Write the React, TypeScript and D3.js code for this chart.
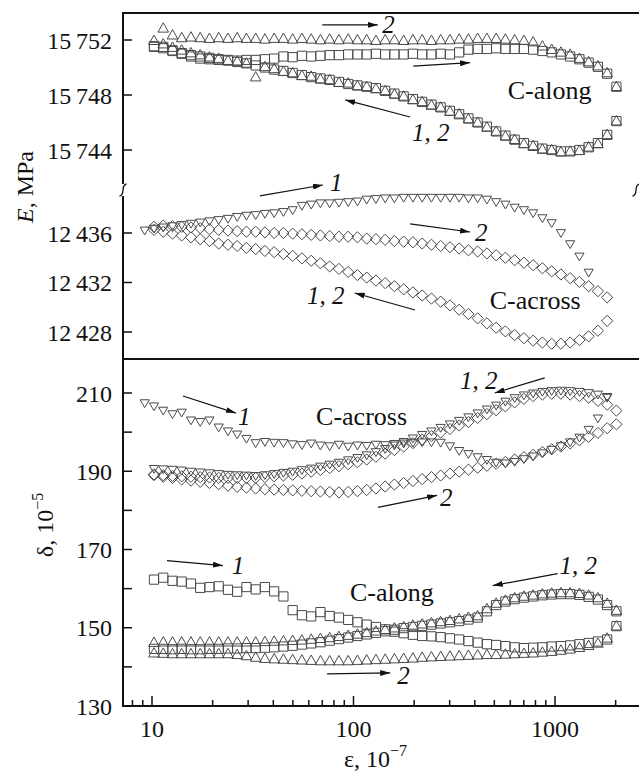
import React from "react";
import * as d3 from "d3";

const _ = null;

// strain amplitude steps, 10^-7
const strain = [9.2, 10.23, 11.37, 12.64, 14.04, 15.61, 17.35, 19.28, 21.43, 23.82,
  26.47, 29.42, 32.7, 36.34, 40.39, 44.89, 49.89, 55.45, 61.66, 68.53,
  76.16, 84.65, 94.1, 104.6, 116.3, 129.2, 143.6, 159.6, 177.4, 197.2,
  219.2, 243.6, 270.8, 301.0, 334.5, 371.8, 413.2, 459.3, 510.5, 567.4,
  630.6, 700.9, 779.0, 865.9, 962.5, 1070, 1189, 1322, 1469, 1633,
  1815, 2017];

// E, MPa — C-along
const eAlongSqUp = [_, 15751.5, 15751.5, 15751.25, 15751.0, 15750.8, 15750.65, 15750.6, 15750.55, 15750.55,
  15750.5, 15750.55, 15750.55, 15750.6, 15750.65, 15750.8, 15750.75, 15750.85, 15750.8, 15750.85,
  15750.9, 15750.9, 15750.95, 15750.95, 15750.95, 15751.0, 15750.95, 15750.95, 15750.95, 15751.0,
  15750.95, 15750.95, 15751.0, 15750.95, 15751.1, 15751.3, 15751.35, 15751.35, 15751.4, 15751.35,
  15751.35, 15751.35, 15751.3, 15751.2, 15751.1, 15750.95, 15750.8, 15750.6, 15750.35, 15750.05,
  15749.55, 15748.6];
const eAlongTrUp = [_, _, 15752.85, 15752.35, 15752.15, 15752.2, 15752.15, 15752.1, 15752.15, 15752.1,
  15752.15, 15752.1, 15752.1, 15752.05, 15752.1, 15752.1, 15752.05, 15752.1, 15752.05, 15752.0,
  15752.05, 15752.0, 15752.05, 15752.0, 15752.0, 15751.95, 15752.0, 15752.0, 15751.95, 15752.0,
  15752.0, 15751.95, 15752.0, 15752.0, 15752.05, 15752.05, 15752.1, 15752.1, 15752.1, 15752.05,
  15752.0, 15751.95, 15751.85, 15751.55, 15751.3, 15751.1, 15750.95, 15750.65, 15750.4, 15750.1,
  15749.6, 15748.6];
const eAlongSqDown = [_, 15751.55, 15751.4, 15751.2, 15751.05, 15750.9, 15750.8, 15750.7, 15750.6, 15750.5,
  15750.4, 15750.3, 15750.15, 15750.0, 15749.85, 15749.75, 15749.6, 15749.45, 15749.3, 15749.2,
  15749.1, 15748.95, 15748.8, 15748.7, 15748.6, 15748.5, 15748.3, 15748.1, 15747.9, 15747.7,
  15747.5, 15747.3, 15747.1, 15746.85, 15746.6, 15746.3, 15746.0, 15745.7, 15745.35, 15745.05,
  15744.75, 15744.5, 15744.3, 15744.1, 15744.0, 15743.9, 15743.9, 15744.0, 15744.2, 15744.5,
  15745.1, 15746.1];
const eAlongTrDown = [_, 15751.95, 15751.7, 15751.45, 15751.25, 15751.05, 15750.9, 15750.75, 15750.65, 15750.5,
  15750.45, 15750.3, 15749.3, 15750.05, 15749.9, 15749.7, 15749.6, 15749.4, 15749.35, 15749.15,
  15749.1, 15748.9, 15748.85, 15748.65, 15748.6, 15748.45, 15748.3, 15748.05, 15747.9, 15747.65,
  15747.5, 15747.25, 15747.1, 15746.8, 15746.6, 15746.25, 15746.0, 15745.65, 15745.35, 15745.0,
  15744.75, 15744.45, 15744.3, 15744.05, 15744.0, 15743.85, 15743.9, 15743.95, 15744.2, 15744.45,
  15745.1, 15746.1];

// E, MPa — C-across
const eAcrossTrUp = [12436.2, 12436.35, 12436.45, 12436.55, 12436.65, 12436.75, 12436.85, 12436.95, 12437.05, 12437.15,
  12437.3, 12437.4, 12437.45, 12437.55, 12437.6, 12437.7, 12437.85, 12438.2, 12438.3, 12438.4,
  12438.4, 12438.45, 12438.5, 12438.55, 12438.7, 12438.75, 12438.8, 12438.8, 12438.85, 12438.85,
  12438.85, 12438.85, 12438.85, 12438.85, 12438.85, 12438.8, 12438.8, 12438.7, 12438.5, 12438.3,
  12438.05, 12437.85, 12437.6, 12437.2, 12436.8, 12436.0, 12435.1, 12434.1, 12432.8, _,
  _, _];
const eAcrossDiUp = [_, 12436.5, 12436.6, 12436.55, 12436.5, 12436.45, 12436.4, 12436.3, 12436.25, 12436.2,
  12436.15, 12436.1, 12436.1, 12436.05, 12436.0, 12436.0, 12435.95, 12435.9, 12435.85, 12435.8,
  12435.75, 12435.7, 12435.7, 12435.65, 12435.55, 12435.5, 12435.45, 12435.35, 12435.3, 12435.25,
  12435.15, 12435.05, 12434.95, 12434.85, 12434.75, 12434.6, 12434.5, 12434.35, 12434.2, 12434.0,
  12433.8, 12433.6, 12433.4, 12433.15, 12432.9, 12432.65, 12432.35, 12432.05, 12431.7, 12431.3,
  12430.8, _];
const eAcrossDiDown = [_, 12436.25, 12436.1, 12435.95, 12435.8, 12435.65, 12435.5, 12435.35, 12435.15, 12435.05,
  12434.95, 12434.8, 12434.7, 12434.55, 12434.45, 12434.3, 12434.15, 12433.95, 12433.75, 12433.55,
  12433.3, 12433.1, 12432.85, 12432.6, 12432.4, 12432.15, 12431.95, 12431.7, 12431.45, 12431.2,
  12430.95, 12430.7, 12430.45, 12430.15, 12429.8, 12429.45, 12429.1, 12428.7, 12428.35, 12428.05,
  12427.75, 12427.5, 12427.3, 12427.15, 12427.05, 12427.05, 12427.15, 12427.35, 12427.65, 12428.1,
  12428.9, _];

// delta, 10^-5 — C-across
const dAcrossTrUp = [207.4, 206.6, 205.5, 204.6, 205.0, 203.0, 202.6, 203.0, 201.2, 200.2,
  199.4, 198.3, 197.2, 197.5, 197.3, 197.2, 196.9, 196.7, 197.1, 196.6,
  196.4, 196.8, 196.3, 196.6, 196.5, 196.8, 196.7, 197.0, 197.1, 197.3,
  197.4, 197.4, 197.3, 196.4, 195.2, 194.4, 193.6, 192.9, 192.2, 192.0,
  192.4, 193.1, 193.8, 194.6, 195.5, 196.4, 197.4, 198.6, 200.6, 203.5,
  208.8, _];
const dAcrossTrDown = [_, 190.6, 190.5, 190.4, 190.2, 189.9, 189.7, 189.5, 189.3, 189.1,
  189.0, 188.9, 188.8, 189.0, 189.3, 189.6, 189.9, 190.3, 190.7, 191.2,
  191.7, 192.2, 192.8, 193.4, 194.1, 194.9, 195.7, 196.6, 197.5, 198.4,
  199.3, 200.2, 201.1, 202.0, 202.9, 203.8, 204.8, 205.8, 206.8, 207.8,
  208.7, 209.4, 209.9, 210.3, 210.5, 210.6, 210.5, 210.3, 210.0, 209.6,
  209.0, _];
const dAcrossDiUp = [_, 189.0, 188.6, 188.3, 187.9, 187.6, 187.3, 187.0, 186.7, 186.3,
  186.0, 185.8, 185.6, 185.4, 185.3, 185.2, 185.1, 185.0, 184.9, 184.8,
  184.7, 184.6, 184.7, 184.9, 185.2, 185.6, 186.1, 186.6, 187.0, 187.5,
  188.0, 188.5, 188.9, 189.4, 189.9, 190.4, 190.9, 191.4, 191.9, 192.4,
  193.0, 193.6, 194.2, 194.9, 195.6, 196.3, 197.1, 197.9, 198.8, 199.8,
  201.0, 202.0];
const dAcrossDiDown = [_, 189.2, 189.0, 188.8, 188.7, 188.6, 188.5, 188.4, 188.3, 188.3,
  188.3, 188.3, 188.3, 188.5, 188.7, 188.9, 189.1, 189.4, 189.9, 190.3,
  190.8, 191.3, 191.8, 192.3, 193.0, 193.7, 194.5, 195.4, 196.3, 197.2,
  198.1, 199.0, 199.9, 200.8, 201.7, 202.6, 203.6, 204.6, 205.6, 206.6,
  207.6, 208.5, 209.2, 209.6, 209.8, 209.8, 209.6, 209.2, 208.8, 208.0,
  207.0, 205.5];

// delta, 10^-5 — C-along
const dAlongSqUp = [_, 162.3, 162.8, 162.0, 161.8, 161.3, 160.2, 160.4, 160.6, 159.7,
  159.2, 160.4, 159.8, 160.4, 159.3, 158.0, 154.5, 153.2, 152.9, 154.0,
  153.0, 152.6, 152.0, 151.4, 150.8, 150.2, 149.6, 149.0, 148.6, 148.2,
  147.9, 147.8, 147.6, 147.3, 147.0, 146.6, 146.2, 145.8, 145.6, 145.3,
  145.0, 144.8, 144.9, 145.0, 145.2, 145.3, 145.5, 145.8, 146.1, 146.5,
  147.0, 150.4];
const dAlongTrUp = [_, 143.5, 143.4, 143.3, 143.3, 143.3, 143.3, 143.3, 143.3, 143.3,
  143.1, 142.8, 142.4, 142.1, 142.0, 141.9, 141.8, 141.7, 141.6, 141.5,
  141.5, 141.5, 141.5, 141.6, 141.7, 141.8, 141.9, 142.0, 142.1, 142.2,
  142.4, 142.5, 142.6, 142.7, 142.8, 142.9, 143.0, 143.1, 143.1, 143.2,
  143.3, 143.4, 143.5, 143.7, 143.9, 144.2, 144.5, 144.9, 145.4, 146.0,
  147.3, 150.4];
const dAlongTrDown = [_, 146.2, 146.3, 146.3, 146.3, 146.3, 146.3, 146.3, 146.3, 146.3,
  146.3, 146.3, 146.3, 146.4, 146.5, 146.6, 146.7, 146.8, 147.0, 147.2,
  147.4, 147.7, 148.0, 148.3, 148.7, 149.1, 149.5, 149.9, 150.2, 150.6,
  150.9, 151.2, 151.5, 151.8, 152.2, 152.6, 153.0, 154.8, 156.2, 157.0,
  157.6, 158.0, 158.3, 158.6, 158.8, 158.9, 158.9, 158.7, 158.3, 157.6,
  156.2, 154.4];
const dAlongSqDown = [_, 144.6, 144.6, 144.5, 144.6, 144.5, 144.5, 144.6, 144.6, 144.7,
  144.7, 144.8, 144.8, 144.9, 145.0, 145.2, 145.4, 145.7, 146.0, 146.3,
  146.7, 147.1, 147.5, 147.9, 148.3, 148.7, 149.1, 149.5, 149.9, 150.2,
  150.5, 150.8, 151.1, 151.4, 151.7, 152.1, 152.6, 154.2, 155.8, 156.7,
  157.3, 157.7, 158.0, 158.3, 158.5, 158.6, 158.6, 158.4, 157.9, 157.2,
  155.8, 154.2];

const eAlongTicks = [15744, 15748, 15752];
const eAcrossTicks = [12428, 12432, 12436];
const deltaTicks = [130, 140, 150, 160, 170, 180, 190, 200, 210];
const deltaLabels = [130, 150, 170, 190, 210];
const strainLabels = [10, 100, 1000];

type Shape = "square" | "triUp" | "triDown" | "diamond";
type Panel = "A" | "B" | "C";

const seriesList: { values: (number | null)[]; panel: Panel; shape: Shape }[] = [
  { values: eAlongSqDown, panel: "A", shape: "square" },
  { values: eAlongTrDown, panel: "A", shape: "triUp" },
  { values: eAlongSqUp, panel: "A", shape: "square" },
  { values: eAlongTrUp, panel: "A", shape: "triUp" },
  { values: eAcrossTrUp, panel: "B", shape: "triDown" },
  { values: eAcrossDiUp, panel: "B", shape: "diamond" },
  { values: eAcrossDiDown, panel: "B", shape: "diamond" },
  { values: dAcrossTrUp, panel: "C", shape: "triDown" },
  { values: dAcrossTrDown, panel: "C", shape: "triDown" },
  { values: dAcrossDiUp, panel: "C", shape: "diamond" },
  { values: dAcrossDiDown, panel: "C", shape: "diamond" },
  { values: dAlongSqUp, panel: "C", shape: "square" },
  { values: dAlongSqDown, panel: "C", shape: "square" },
  { values: dAlongTrUp, panel: "C", shape: "triUp" },
  { values: dAlongTrDown, panel: "C", shape: "triUp" },
];

// annotation arrows and labels, in data units (strain, value)
const arrows: { panel: Panel; from: [number, number]; to: [number, number] }[] = [
  { panel: "A", from: [70, 15753.1], to: [132, 15753.1] },
  { panel: "A", from: [198, 15750.1], to: [379, 15750.35] },
  { panel: "A", from: [191, 15746.4], to: [91, 15747.64] },
  { panel: "B", from: [34.3, 12439.0], to: [70.5, 12439.88] },
  { panel: "B", from: [191, 12436.73], to: [379, 12436.08] },
  { panel: "B", from: [202, 12429.78], to: [101.4, 12431.15] },
  { panel: "C", from: [14.24, 209.23], to: [26.1, 204.87] },
  { panel: "C", from: [889, 213.85], to: [502, 210.0] },
  { panel: "C", from: [132.3, 180.77], to: [260, 183.85] },
  { panel: "C", from: [11.87, 167.18], to: [22.5, 165.9] },
  { panel: "C", from: [1030, 163.85], to: [491, 160.77] },
  { panel: "C", from: [73.9, 138.2], to: [152.1, 138.46] },
];
const labels: { panel: Panel; at: [number, number]; text: string; italic?: boolean }[] = [
  { panel: "A", at: [139, 15752.5], text: "2", italic: true },
  { panel: "A", at: [195, 15744.65], text: "1, 2", italic: true },
  { panel: "A", at: [583, 15747.71], text: "C-along" },
  { panel: "B", at: [76.5, 12439.39], text: "1", italic: true },
  { panel: "B", at: [401, 12435.35], text: "2", italic: true },
  { panel: "B", at: [58.8, 12430.26], text: "1, 2", italic: true },
  { panel: "B", at: [474, 12429.86], text: "C-across" },
  { panel: "C", at: [26.7, 201.8], text: "1", italic: true },
  { panel: "C", at: [65.2, 201.8], text: "C-across" },
  { panel: "C", at: [338, 211.0], text: "1, 2", italic: true },
  { panel: "C", at: [269, 181.03], text: "2", italic: true },
  { panel: "C", at: [24.9, 163.85], text: "1", italic: true },
  { panel: "C", at: [96.1, 156.9], text: "C-along" },
  { panel: "C", at: [1054, 163.85], text: "1, 2", italic: true },
  { panel: "C", at: [164.8, 135.64], text: "2", italic: true },
];

const FONT = '"Liberation Serif", "Times New Roman", Times, serif';

function shapePath(s: Shape): string {
  switch (s) {
    case "square": return "M-4.6,-4.6H4.6V4.6H-4.6Z";
    case "triUp": return "M0,-5.6L5.3,3.8L-5.3,3.8Z";
    case "triDown": return "M-4.6,-3.4L4.6,-3.4L0,4.4Z";
    default: return "M0,-5.6L5.6,0L0,5.6L-5.6,0Z";
  }
}

const fmtBig = (v: number) => {
  const s = String(v);
  return s.length > 4 ? s.slice(0, 2) + "\u2009" + s.slice(2) : s;
};

export default function App() {
  const W = 639, H = 778;
  const L = 123, T = 13, MID = 359, B = 706, R = 639, BRK = 190;
  const x = d3.scaleLog().domain([10, 1000]).range([152, 555]);
  const yA = d3.scaleLinear().domain([15744, 15752]).range([150, 40]);
  const yB = d3.scaleLinear().domain([12428, 12436]).range([332, 233]);
  const yC = d3.scaleLinear().domain([130, 210]).range([706, 393]);
  const yOf: Record<Panel, d3.ScaleLinear<number, number>> = { A: yA, B: yB, C: yC };

  const minorX: number[] = [];
  [1, 10, 100, 1000].forEach((d) => {
    for (let m = 2; m <= 9; m++) {
      const v = d * m;
      if (v >= 7.5 && v <= 2100) minorX.push(v);
    }
  });

  const leftTicks: { y: number; label?: string }[] = [
    ...eAlongTicks.map((v) => ({ y: yA(v), label: fmtBig(v) })),
    ...eAcrossTicks.map((v) => ({ y: yB(v), label: fmtBig(v) })),
    ...deltaTicks.map((v) => ({ y: yC(v), label: deltaLabels.includes(v) ? String(v) : undefined })),
  ];

  const sPath = (cx: number, cy: number) =>
    `M${cx - 3.5},${cy + 6} C${cx + 3},${cy + 5} ${cx - 3},${cy - 5} ${cx + 3.5},${cy - 6}`;

  return (
    <svg width={W} height={H} style={{ position: "absolute", left: 0, top: 0, background: "#fff" }}
      fontFamily={FONT}>
      <defs>
        <marker id="ah" viewBox="0 0 10 6" refX="10" refY="3" markerWidth="10" markerHeight="6"
          markerUnits="userSpaceOnUse" orient="auto">
          <path d="M0,0 L10,3 L0,6 Z" fill="#111" />
        </marker>
      </defs>
      <rect x={0} y={0} width={W} height={H} fill="#fff" />

      {/* markers */}
      {seriesList.map((s, si) => (
        <g key={si} fill="none" stroke="#4a4a4a" strokeWidth={1}>
          {s.values.map((v, i) =>
            v == null ? null : (
              <path key={i} d={shapePath(s.shape)}
                transform={`translate(${x(strain[i]).toFixed(2)},${yOf[s.panel](v).toFixed(2)})`} />
            )
          )}
        </g>
      ))}

      {/* frame */}
      <g stroke="#111" strokeWidth={2} fill="none">
        <line x1={L} y1={T} x2={R} y2={T} />
        <line x1={L} y1={MID} x2={R} y2={MID} />
        <line x1={L} y1={B} x2={R} y2={B} />
        <line x1={L} y1={T - 1} x2={L} y2={BRK - 6} />
        <line x1={L} y1={BRK + 6} x2={L} y2={B + 1} />
      </g>
      <g stroke="#111" strokeWidth={1.3} fill="none">
        <path d={sPath(L, BRK)} />
        <path d={sPath(R - 3, BRK)} />
      </g>

      {/* left ticks */}
      <g stroke="#111" strokeWidth={1.5}>
        {leftTicks.map((t, i) => <line key={i} x1={L} x2={L + 9} y1={t.y} y2={t.y} />)}
      </g>
      <g fontSize={24} textAnchor="end" fill="#111">
        {leftTicks.filter((t) => t.label).map((t, i) => (
          <text key={i} x={112} y={t.y + 8.5}>{t.label}</text>
        ))}
      </g>

      {/* bottom ticks */}
      <g stroke="#111" strokeWidth={1.5}>
        {minorX.map((v, i) => <line key={i} x1={x(v)} x2={x(v)} y1={B} y2={B - 6} />)}
        {strainLabels.map((v, i) => <line key={"M" + i} x1={x(v)} x2={x(v)} y1={B} y2={B - 10} />)}
      </g>
      <g fontSize={24} textAnchor="middle" fill="#111">
        {strainLabels.map((v, i) => <text key={i} x={x(v)} y={737}>{v}</text>)}
      </g>

      {/* axis titles */}
      <text fontSize={24} fill="#111" textAnchor="middle" transform="translate(33,187) rotate(-90)">
        <tspan fontStyle="italic">E</tspan>, MPa
      </text>
      <text fontSize={24} fill="#111" textAnchor="middle" transform="translate(53,525) rotate(-90)">
        δ, 10<tspan dy={-10} fontSize={16}>−5</tspan>
      </text>
      <text fontSize={24} fill="#111" x={344} y={767}>
        ε, 10<tspan dy={-11} fontSize={16}>−7</tspan>
      </text>

      {/* annotations */}
      <g stroke="#111" strokeWidth={1.2}>
        {arrows.map((a, i) => (
          <line key={i} x1={x(a.from[0])} y1={yOf[a.panel](a.from[1])}
            x2={x(a.to[0])} y2={yOf[a.panel](a.to[1])} markerEnd="url(#ah)" />
        ))}
      </g>
      <g fill="#111">
        {labels.map((l, i) => (
          <text key={i} x={x(l.at[0])} y={yOf[l.panel](l.at[1])}
            fontSize={l.italic ? 25 : 26} fontStyle={l.italic ? "italic" : "normal"}>
            {l.text}
          </text>
        ))}
      </g>
    </svg>
  );
}
